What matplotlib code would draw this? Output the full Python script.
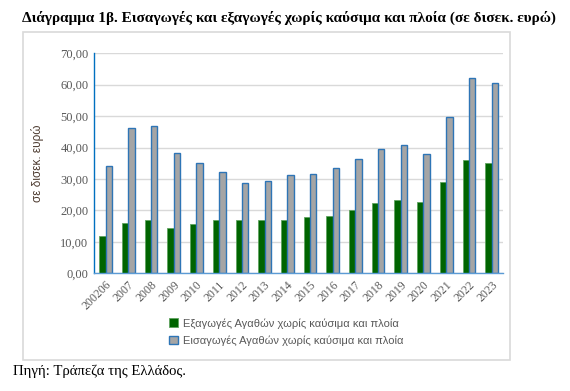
"""Exports and imports of goods excluding fuels and ships (bn euro), grouped bars."""

import matplotlib

matplotlib.use("Agg")
import matplotlib.pyplot as plt
import numpy as np
from matplotlib.patches import Rectangle

years = ["200206", "2007", "2008", "2009", "2010", "2011", "2012", "2013", "2014",
         "2015", "2016", "2017", "2018", "2019", "2020", "2021", "2022", "2023"]
exports = [11.8, 15.9, 17.0, 14.3, 15.8, 17.1, 17.1, 17.0, 17.1,
           18.0, 18.3, 20.0, 22.3, 23.2, 22.7, 29.1, 36.1, 35.0]
imports = [34.0, 46.2, 46.9, 38.4, 35.0, 32.1, 28.7, 29.4, 31.2,
           31.5, 33.4, 36.2, 39.6, 40.7, 37.9, 49.8, 62.0, 60.4]
yticks = [0, 10, 20, 30, 40, 50, 60, 70]

label_exp = "Εξαγωγές Αγαθών χωρίς καύσιμα και πλοία"
label_imp = "Εισαγωγές Αγαθών χωρίς καύσιμα και πλοία"
title = "Διάγραμμα 1β. Εισαγωγές και εξαγωγές χωρίς καύσιμα και πλοία (σε δισεκ. ευρώ)"
source = "Πηγή: Τράπεζα της Ελλάδος."

SERIF = ["Liberation Serif", "DejaVu Serif"]
SANS = ["Liberation Sans", "DejaVu Sans"]
GREY_TXT = "#595959"

fig = plt.figure(figsize=(5.7, 3.91), dpi=100)
ax = fig.add_axes([0.165, 0.301, 0.717, 0.563])

# chart frame around plot + legend
fig.patches.append(Rectangle((22.5 / 570, 1 - 360 / 391), (510 - 22.5) / 570, (360 - 32) / 391,
                             transform=fig.transFigure, fill=False,
                             edgecolor="#D9D9D9", linewidth=1.2))

x = np.arange(len(years))
w = 0.28
ax.bar(x - 0.13, exports, width=w, color="#006400", edgecolor="#5FA35F",
       linewidth=0.6, label=label_exp, zorder=3)
ax.bar(x + 0.15, imports, width=w, color="#A5A5A5", edgecolor="#2E75B6",
       linewidth=1.0, label=label_imp, zorder=3)

ax.set_xlim(-0.5, len(years) - 0.5)
ax.set_ylim(0, 70)
ax.set_yticks(yticks)
ax.set_yticklabels([f"{v:.2f}".replace(".", ",") for v in yticks],
                   fontfamily=SERIF, fontsize=9, color=GREY_TXT)
ax.set_xticks(x)
ax.set_xticklabels(years, rotation=45, ha="right", va="top", rotation_mode="anchor",
                   fontfamily=SERIF, fontsize=8.5, color=GREY_TXT)
ax.tick_params(axis="both", length=0, pad=4)

ax.grid(axis="y", color="#D9D9D9", linewidth=1.0, zorder=0)
for s in ("top", "right"):
    ax.spines[s].set_visible(False)
ax.spines["left"].set_color("#0070C0")
ax.spines["left"].set_linewidth(1.0)
ax.spines["bottom"].set_color("#5B9BD5")
ax.spines["bottom"].set_linewidth(1.0)
ax.spines["bottom"].set_zorder(4)

ax.set_ylabel("σε δισεκ. ευρώ", fontfamily=SANS, fontsize=8.5, color="#4D3B30", labelpad=12)

ax.legend(loc="upper center", bbox_to_anchor=(0.47, -0.158), ncol=1, frameon=False,
          prop={"family": SANS, "size": 8}, labelcolor=GREY_TXT,
          handlelength=0.8, handleheight=0.8, handletextpad=0.4, labelspacing=0.6)

fig.text(22 / 570, 1 - 18 / 391, title, fontfamily=SERIF, fontweight="bold",
         fontsize=11, va="center", ha="left")
fig.text(13 / 570, 1 - 371 / 391, source, fontfamily=SERIF, fontsize=10.6,
         va="center", ha="left")

fig.savefig("out.png", dpi=100)
